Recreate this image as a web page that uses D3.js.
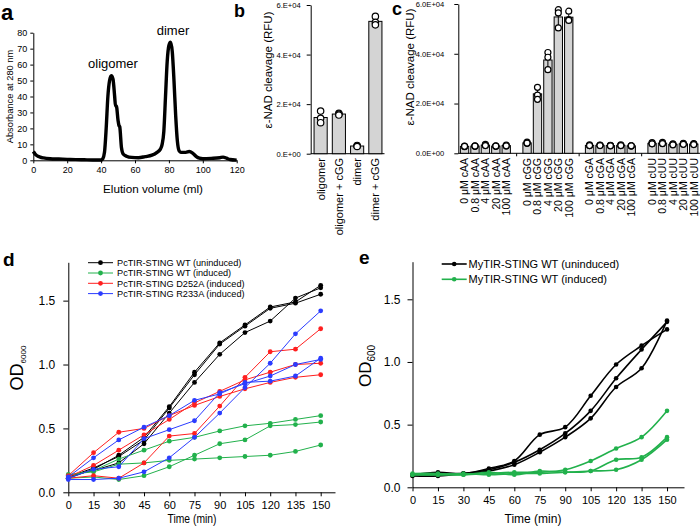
<!DOCTYPE html>
<html><head><meta charset="utf-8">
<script src="https://cdn.jsdelivr.net/npm/d3@7"></script>
<style>body{margin:0;background:#fff}svg{display:block}</style>
</head><body>
<svg id="chart" width="700" height="528"></svg>
<script>
// ---------------- DATA ----------------
// panel a: size-exclusion chromatogram
const elutionVolume = [0,1,2,4,6,10,15,20,25,30,35,40,41,42,43,44,45,46,47,48,48.5,49,50,50.5,51,52,53,55,58,62,66,70,73,75,76,77,78,79,80,81,82,83,84,85,86,87,88,90,92,94,96,98,100,105,110,112,114,116,120];
const absorbance    = [5.5,4,3,2,1.5,1,0.8,0.6,0.4,0.3,0.2,0.2,1,5,20,40,50,53,51,40,34,34,25,22,21,8,4,2.6,1.8,1.6,2.3,3.2,5,7,10,18,40,62,72,74,68,50,28,12,6,5,5,5,5.5,4.5,2.5,1.3,1,1.2,1.6,2,1.3,0.5,0.1];
const aXTicks = [0,20,40,60,80,100,120];
const aYTicks = [0,10,20,30,40,50,60,70,80];

// panel b
const bCategories = ["oligomer","oligomer + cGG","dimer","dimer + cGG"];
const bMeans  = [14600,16000,3100,53400];
const bSD     = [2400,400,300,1700];
const bPoints = [[17200,14300,12500],[16300,16000,15600],[3300,3100,2900],[55400,53000,52000]];
const bTickValues = [0,20000,40000,60000];
const bTickLabels = ["0.E+00","2.E+04","4.E+04","6.E+04"];

// panel c
const cConcs   = ["0","0.8","4","20","100"];
const cLigands = ["cAA","cGG","cGA","cUU"];
const cMeans = [2800,2900,3300,2900,3100, 4200,23900,37500,54800,54700, 3200,3200,3100,3200,3000, 4000,4100,3600,3800,3700];
const cSD    = [200,200,300,200,200, 300,2500,3600,3800,2000, 200,200,200,200,100, 300,300,200,200,200];
const cPoints = [[2700,2900,2800],[2800,3000,2900],[3600,3200,3100],[2800,3000,2900],[3300,3000,3000],
                 [4500,4000,4100],[26500,23400,21700],[40500,38600,33600],[57700,56400,50400],[57100,53700,53400],
                 [3400,3100,3100],[3300,3200,3100],[3200,3100,3000],[3400,3100,3100],[3000,3000,3000],
                 [4300,3900,3800],[4400,4000,3900],[3800,3600,3400],[4000,3800,3600],[3900,3700,3500]];
const cTickLabels = ["0.0E+00","2.0E+04","4.0E+04","6.0E+04"];

// panels d & e: growth curves
const timePoints = [0,15,30,45,60,75,90,105,120,135,150];
const odTicks = [0,0.5,1.0,1.5];
const dLegend = ["PcTIR-STING WT (uninduced)","PcTIR-STING WT (induced)","PcTIR-STING D252A (induced)","PcTIR-STING R233A (induced)"];
const dColors = ["#000000","#22b14c","#ff1f1f","#2b3cff"];
const dWTUninduced = [
  [0.11,0.18,0.29,0.43,0.67,0.94,1.17,1.31,1.45,1.49,1.62],
  [0.12,0.19,0.28,0.41,0.66,0.92,1.16,1.30,1.44,1.48,1.55],
  [0.13,0.17,0.23,0.38,0.62,0.86,1.08,1.25,1.34,1.52,1.60]];
const dWTInduced = [
  [0.13,0.17,0.26,0.33,0.40,0.43,0.48,0.52,0.54,0.57,0.60],
  [0.14,0.16,0.22,0.23,0.25,0.26,0.27,0.28,0.29,0.32,0.37],
  [0.11,0.12,0.10,0.13,0.20,0.29,0.38,0.41,0.52,0.53,0.55]];
const dD252A = [
  [0.13,0.31,0.47,0.50,0.60,0.68,0.75,0.81,0.86,0.90,0.92],
  [0.12,0.21,0.33,0.45,0.57,0.70,0.79,0.88,0.94,1.00,1.01],
  [0.11,0.13,0.11,0.23,0.44,0.46,0.675,0.90,1.10,1.12,1.28]];
const dR233A = [
  [0.12,0.27,0.41,0.51,0.60,0.72,0.77,0.86,0.87,0.91,1.05],
  [0.11,0.18,0.20,0.42,0.49,0.56,0.78,0.85,0.91,1.00,1.04],
  [0.10,0.10,0.11,0.16,0.27,0.43,0.62,0.82,1.01,1.24,1.42]];

const eLegend = ["MyTIR-STING WT (uninduced)","MyTIR-STING WT (induced)"];
const eColors = ["#000000","#22b14c"];
const eWTUninduced = [
  [0.10,0.12,0.11,0.15,0.21,0.42,0.48,0.73,0.98,1.13,1.26],
  [0.09,0.09,0.11,0.14,0.20,0.30,0.43,0.61,0.87,1.10,1.32],
  [0.10,0.10,0.11,0.13,0.18,0.28,0.40,0.55,0.80,0.95,1.33]];
const eWTInduced = [
  [0.11,0.11,0.10,0.11,0.12,0.12,0.14,0.21,0.31,0.40,0.61],
  [0.10,0.10,0.11,0.10,0.11,0.11,0.12,0.13,0.22,0.24,0.40],
  [0.10,0.10,0.10,0.12,0.10,0.13,0.12,0.13,0.14,0.22,0.38]];

// ---------------- DRAWING ----------------
const FONT = '"Liberation Sans", Arial, Helvetica, sans-serif';
const svg = d3.select("#chart").attr("font-family", FONT);

function styleAxis(g, size) {
  g.attr("font-size", size).attr("font-family", FONT);
  g.selectAll("path,line").attr("stroke", "#000").attr("stroke-width", 1);
  g.selectAll("text").attr("fill", "#000");
}
function panelLetter(x, y, t, size) {
  svg.append("text").attr("x", x).attr("y", y).attr("font-weight", "bold")
    .attr("font-size", size).text(t);
}

// ===== Panel a =====
const ax = d3.scaleLinear().domain([0,120]).range([33.3,236.7]);
const ay = d3.scaleLinear().domain([0,80]).range([160.3,32.7]);
const gA = svg.append("g");
gA.append("g").attr("transform", `translate(0,${ay(0)})`)
  .call(d3.axisBottom(ax).tickValues(aXTicks).tickSize(3).tickPadding(3).tickSizeOuter(0))
  .call(g => styleAxis(g, 9));
gA.append("g").attr("transform", `translate(${ax(0)},0)`)
  .call(d3.axisLeft(ay).tickValues(aYTicks).tickSize(3).tickPadding(3).tickSizeOuter(0))
  .call(g => styleAxis(g, 9));
gA.append("path").datum(elutionVolume.map((v,i)=>[v,absorbance[i]]))
  .attr("fill","none").attr("stroke","#000").attr("stroke-width",3.4).attr("stroke-linejoin","round")
  .attr("d", d3.line().x(d=>ax(d[0])).y(d=>ay(d[1])).curve(d3.curveMonotoneX));
gA.append("text").attr("x",113).attr("y",68).attr("text-anchor","middle").attr("font-size",13).text("oligomer");
gA.append("text").attr("x",173).attr("y",35).attr("text-anchor","middle").attr("font-size",13).text("dimer");
gA.append("text").attr("x",153).attr("y",193).attr("text-anchor","middle").attr("font-size",11.7).text("Elution volume (ml)");
gA.append("text").attr("transform","translate(12.5,96.5) rotate(-90)").attr("text-anchor","middle").attr("font-size",9.3).text("Absorbance at 280 nm");
panelLetter(1, 20, "a", 22);

// ===== Panel b =====
const bx = d3.scaleBand().domain(bCategories).range([311.5,384.5]).paddingInner(0.28).paddingOuter(0.14);
const by = d3.scaleLinear().domain([0,60000]).range([153.7,5]);
const gB = svg.append("g");
gB.append("g").attr("transform", `translate(310.7,0)`)
  .call(d3.axisLeft(by).tickValues(bTickValues).tickFormat((d,i)=>bTickLabels[i]).tickSize(4).tickPadding(6).tickSizeOuter(0))
  .call(g => styleAxis(g, 7.6));
gB.append("line").attr("x1",310.7).attr("x2",bx.range()[1]).attr("y1",by(0)).attr("y2",by(0)).attr("stroke","#000");
gB.selectAll("rect.bar").data(bCategories).join("rect").attr("class","bar")
  .attr("x", d=>bx(d)).attr("width", bx.bandwidth())
  .attr("y", (d,i)=>by(bMeans[i])).attr("height", (d,i)=>by(0)-by(bMeans[i]))
  .attr("fill","#d4d4d4").attr("stroke","#000").attr("stroke-width",1);
bCategories.forEach((c,i)=>{
  const cx = bx(c)+bx.bandwidth()/2;
  gB.append("line").attr("x1",cx).attr("x2",cx).attr("y1",by(bMeans[i]-bSD[i])).attr("y2",by(bMeans[i]+bSD[i])).attr("stroke","#000");
  gB.append("line").attr("x1",cx-2.5).attr("x2",cx+2.5).attr("y1",by(bMeans[i]+bSD[i])).attr("y2",by(bMeans[i]+bSD[i])).attr("stroke","#000");
  bPoints[i].forEach(v=>gB.append("circle").attr("cx",cx).attr("cy",by(v)).attr("r",3.2)
      .attr("fill","#fff").attr("stroke","#000").attr("stroke-width",1.2));
  gB.append("text").attr("transform",`translate(${cx+4},158) rotate(-90)`).attr("text-anchor","end")
    .attr("font-size",11).text(c);
});
gB.append("text").attr("transform","translate(272,70) rotate(-90)").attr("text-anchor","middle").attr("font-size",11.5).text("ε-NAD cleavage (RFU)");
panelLetter(234, 17, "b", 18);

// ===== Panel c =====
const cCategories = [];
cLigands.forEach(l => cConcs.forEach(c => cCategories.push(`${c} μM ${l}`)));
const cSlot = i => i + Math.floor(i/5);
const cx = d3.scaleBand().domain(d3.range(cCategories.length + cLigands.length - 1)).range([458.3,700]).padding(0.2);
const cy = d3.scaleLinear().domain([0,60000]).range([153.3,4]);
const gC = svg.append("g");
gC.append("g").attr("transform", `translate(458.3,0)`)
  .call(d3.axisLeft(cy).tickValues(bTickValues).tickFormat((d,i)=>cTickLabels[i]).tickSize(4).tickPadding(10).tickSizeOuter(0))
  .call(g => styleAxis(g, 7.6));
gC.append("line").attr("x1",458.3).attr("x2",700).attr("y1",cy(0)).attr("y2",cy(0)).attr("stroke","#000");
[5,11,17].forEach(s=>{
  const xx = cx(s)+cx.bandwidth()/2;
  gC.append("line").attr("x1",xx).attr("x2",xx).attr("y1",cy(0)).attr("y2",cy(0)+3).attr("stroke","#000");
});
cCategories.forEach((c,i)=>{
  const x0 = cx(cSlot(i)), w = cx.bandwidth(), xc = x0 + w/2;
  gC.append("rect").attr("x",x0).attr("width",w).attr("y",cy(cMeans[i])).attr("height",cy(0)-cy(cMeans[i]))
    .attr("fill","#d4d4d4").attr("stroke","#000").attr("stroke-width",1);
  gC.append("line").attr("x1",xc).attr("x2",xc).attr("y1",cy(cMeans[i]-cSD[i])).attr("y2",cy(cMeans[i]+cSD[i])).attr("stroke","#000");
  gC.append("line").attr("x1",xc-2).attr("x2",xc+2).attr("y1",cy(cMeans[i]+cSD[i])).attr("y2",cy(cMeans[i]+cSD[i])).attr("stroke","#000");
  cPoints[i].forEach(v=>gC.append("circle").attr("cx",xc).attr("cy",cy(v)).attr("r",3)
      .attr("fill","#fff").attr("stroke","#000").attr("stroke-width",1.2));
  gC.append("text").attr("transform",`translate(${xc+3.8},158) rotate(-90)`).attr("text-anchor","end")
    .attr("font-size",10.5).text(c);
});
gC.append("text").attr("transform","translate(414,67) rotate(-90)").attr("text-anchor","middle").attr("font-size",11.5).text("ε-NAD cleavage (RFU)");
panelLetter(392, 15, "c", 18);

// ===== growth panels =====
function growthPanel(opt) {
  const x = d3.scaleLinear().domain(opt.xDomain).range(opt.xRange);
  const y = d3.scaleLinear().domain([0,1.8]).range(opt.yRange);
  const g = svg.append("g");
  g.append("g").attr("transform",`translate(0,${opt.yRange[0]})`)
    .call(d3.axisBottom(x).tickValues(timePoints).tickSize(4).tickPadding(5).tickSizeOuter(0))
    .call(a => styleAxis(a, opt.tickFont));
  g.append("g").attr("transform",`translate(${opt.xRange[0]},0)`)
    .call(d3.axisLeft(y).tickValues(odTicks).tickFormat(d3.format(".1f")).tickSize(5).tickPadding(opt.yPad).tickSizeOuter(0))
    .call(a => styleAxis(a, opt.yTickFont));
  const line = d3.line().x((d,i)=>x(timePoints[i])).y(d=>y(d)).curve(opt.curve);
  opt.groups.forEach((reps,gi)=>{
    reps.forEach(r=>{
      g.append("path").datum(r).attr("fill","none").attr("stroke",opt.colors[gi]).attr("stroke-width",opt.lw).attr("d",line);
      g.selectAll(null).data(r).join("circle").attr("cx",(d,i)=>x(timePoints[i])).attr("cy",d=>y(d))
        .attr("r",opt.r).attr("fill",opt.colors[gi]);
    });
  });
  // legend
  opt.legend.forEach((t,i)=>{
    const yy = opt.legY + i*opt.legStep;
    g.append("line").attr("x1",opt.legX[0]).attr("x2",opt.legX[1]).attr("y1",yy).attr("y2",yy).attr("stroke",opt.colors[i]).attr("stroke-width",opt.lw);
    g.append("circle").attr("cx",(opt.legX[0]+opt.legX[1])/2).attr("cy",yy).attr("r",opt.r).attr("fill",opt.colors[i]);
    g.append("text").attr("x",opt.legX[2]).attr("y",yy+opt.legFont*0.35)
      .attr("font-size",opt.legFont).text(t);
  });
  g.append("text").attr("transform",`translate(${opt.titleX},523) scale(${opt.sx},1)`)
    .attr("text-anchor","middle").attr("font-size",12).text("Time (min)");
  const od = g.append("text").attr("transform",`translate(${opt.odX},${opt.odY}) rotate(-90)`).attr("text-anchor","middle");
  od.append("tspan").attr("font-size",opt.odFont).text("OD");
  od.append("tspan").attr("font-size",opt.subFont).attr("dy",opt.subFont*0.35).text(opt.sub);
}

growthPanel({xDomain:[0,158.5], xRange:[68.3,335], yRange:[492.3,262.3], tickFont:11, yTickFont:12, sx:0.86, yPad:8,
  groups:[dWTUninduced,dWTInduced,dD252A,dR233A], colors:dColors, lw:1, r:2.4, curve:d3.curveLinear,
  legend:dLegend, legX:[88,113,117], legY:262.7, legStep:10.3, legFont:9.2, titleX:192,
  odX:23, odY:368, odFont:18, subFont:8, sub:"6000"});
panelLetter(3, 266, "d", 19);

growthPanel({xDomain:[0,160], xRange:[412.5,684], yRange:[487.3,261.7], tickFont:11, yTickFont:12, sx:1, yPad:7,
  groups:[eWTUninduced,eWTInduced], colors:eColors, lw:1.6, r:2.3, curve:d3.curveCatmullRom.alpha(0.5),
  legend:eLegend, legX:[441.7,466.7,468.5], legY:264, legStep:15.3, legFont:11, titleX:533,
  odX:371, odY:366, odFont:17, subFont:10, sub:"600"});
panelLetter(359, 264, "e", 19);
</script>
</body></html>
